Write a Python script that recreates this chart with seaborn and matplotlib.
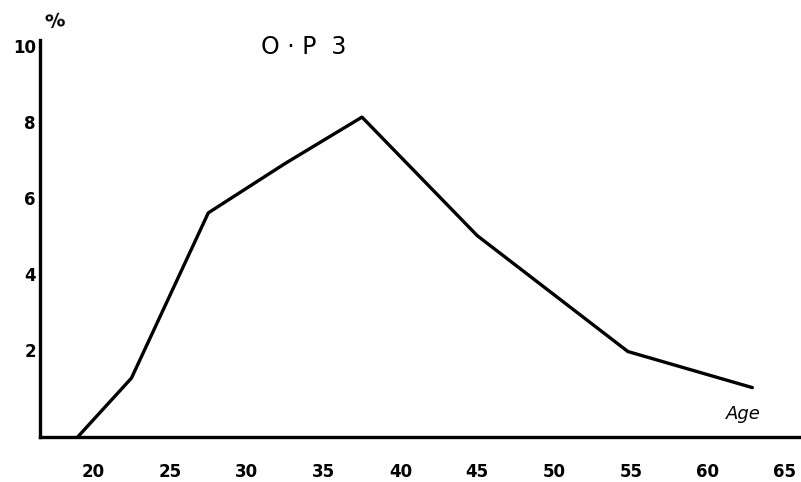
import numpy as np
import pandas as pd
import matplotlib
matplotlib.use('Agg')
import matplotlib.pyplot as plt
import seaborn as sns

# values
age = [19.0, 22.5, 27.5, 32.5, 37.5, 45.0, 54.8, 62.9]
percent = [0.0, 1.55, 5.9, 7.2, 8.42, 5.3, 2.25, 1.3]
x_ticks = [20, 25, 30, 35, 40, 45, 50, 55, 60, 65]
y_ticks = [2, 4, 6, 8, 10]

sns.set_style('white')
plt.rcParams['font.family'] = ['DejaVu Sans']
plt.rcParams['text.color'] = 'black'
plt.rcParams['xtick.color'] = 'black'
plt.rcParams['ytick.color'] = 'black'

df = pd.DataFrame({'age': age, 'percent': percent})

fig = plt.figure(figsize=(8.01, 4.82), dpi=100)
ax = fig.add_axes([40 / 801, 45 / 482, 760 / 801, 397 / 482])

sns.lineplot(data=df, x='age', y='percent', color='black', linewidth=2.4, ax=ax)

ax.set_xlim(16.55, 66.0)
ax.set_ylim(0, 10.45)

for side in ['top', 'right']:
    ax.spines[side].set_visible(False)
for side in ['left', 'bottom']:
    ax.spines[side].set_linewidth(2.4)
    ax.spines[side].set_color('black')

ax.set_xticks(x_ticks)
ax.set_xticklabels([str(t) for t in x_ticks], fontsize=12, fontweight='bold')
ax.set_yticks(y_ticks)
ax.set_yticklabels([str(t) for t in y_ticks], fontsize=12, fontweight='bold', va='bottom')
ax.tick_params(axis='x', direction='in', length=4, width=1.5, pad=19)
ax.tick_params(axis='y', direction='in', length=5, width=1.5, pad=3)

ax.set_xlabel('')
ax.set_ylabel('')
ax.grid(False)

fig.text(55 / 801, 1 - 22 / 482, '%', fontsize=14, fontweight='bold', ha='center', va='center', rotation=10)
fig.text(304 / 801, 1 - 47 / 482, 'O · P  3', fontsize=17, ha='center', va='center')
ax.text(61.2, 0.6, 'Age', fontsize=13, style='italic', ha='left', va='center')

fig.savefig('out.png', dpi=100)
